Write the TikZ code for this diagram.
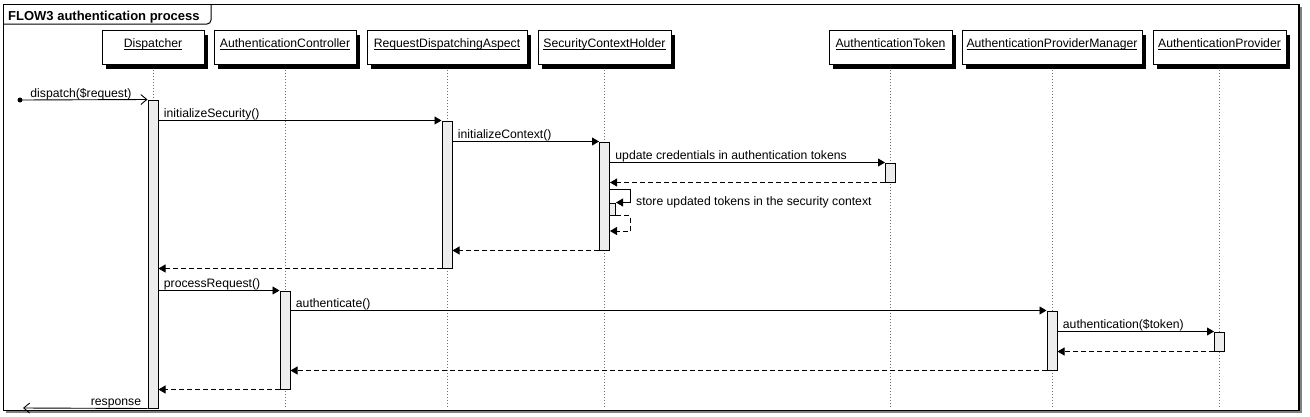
\documentclass[tikz,border=0pt]{standalone}
\usepackage{fontspec}
\setmainfont{Liberation Sans}
\usetikzlibrary{arrows.meta}
\newcommand\ulin[1]{\setbox0\hbox{#1}\rlap{\vrule width\wd0 height -1.5pt depth 2.5pt}\box0}
\begin{document}
\begin{tikzpicture}[x=1pt,y=-1pt,
  every node/.style={font=\fontsize{12.2}{14}\selectfont},
  part/.style={draw, fill=white, line width=1pt, inner sep=0pt, text height=16.5pt, text depth=17.5pt},
  act/.style={draw, fill=black!7, line width=1pt, minimum width=10pt, inner sep=0pt},
  life/.style={draw=black!55, line width=0.8pt, dash pattern=on 1.5pt off 1.5pt},
  call/.style={line width=0.9pt, -{Triangle[length=7pt,width=8pt]}},
  ret/.style={call, dash pattern=on 5pt off 3pt},
  open/.style={line width=0.9pt, -{Straight Barb[length=6pt,width=10pt]}},
  msg/.style={pos=0, anchor=base west, inner sep=0pt, xshift=5pt, yshift=3pt}
]
\useasboundingbox (0,0) rectangle (1310,416);
% frame
\fill[black!50] (5.5,6.5) rectangle (1301.5,413);
\draw[line width=1.6pt, fill=white] (3.5,4.5) rectangle (1299,410.5);
\draw[line width=1pt, rounded corners=4pt] (3.5,24) -- (211,24) -- (211,4.5);
\node[anchor=base west, inner sep=0pt, font=\bfseries\fontsize{13}{15}\selectfont] (title) at (8,20.5) {FLOW3 authentication process};

% participant shadows
\foreach \cx/\w in {153/102,285/142,447/160,604.5/133,890.5/123,1052/180,1219.5/133}
  \fill (\cx-\w/2+4, 34.5) rectangle (\cx+\w/2+4, 68.5);

% participants
\node[part, minimum width=102pt] (pD)   at (153,47.5)   {\ulin{Dispatcher}};
\node[part, minimum width=142pt] (pAC)  at (285,47.5)   {\ulin{AuthenticationController}};
\node[part, minimum width=160pt] (pRDA) at (447,47.5)   {\ulin{RequestDispatchingAspect}};
\node[part, minimum width=133pt] (pSCH) at (604.5,47.5) {\ulin{SecurityContextHolder}};
\node[part, minimum width=123pt] (pAT)  at (890.5,47.5) {\ulin{AuthenticationToken}};
\node[part, minimum width=180pt] (pAPM) at (1052,47.5)  {\ulin{AuthenticationProviderManager}};
\node[part, minimum width=133pt] (pAP)  at (1219.5,47.5){\ulin{AuthenticationProvider}};

% lifelines
\coordinate (bot) at (0,408);
\foreach \p in {pD,pAC,pRDA,pSCH,pAT,pAPM,pAP}
  \draw[life] ([yshift=-4.5pt]\p.south) -- (\p.south |- bot);

% activations
\node[act, minimum height=308pt] (aD)   at (153,254) {};
\node[act, minimum height=147pt] (aRDA) at (447,194.5) {};
\node[act, minimum height=108pt] (aSCH) at (604.5,196) {};
\node[act, minimum height=19pt]  (aAT)  at (890.5,172.5) {};
\node[act, minimum width=6pt, minimum height=12pt] (aS2) at (612.5,209) {};
\node[act, minimum height=98pt]  (aAC)  at (285,340) {};
\node[act, minimum height=59pt]  (aAPM) at (1052,340.5) {};
\node[act, minimum height=19pt]  (aAP)  at (1219.5,341.5) {};

% messages
\node[circle, fill=black, inner sep=0pt, minimum size=5pt] (start) at (20,100) {};
\draw[open] (start.center) -- node[msg, xshift=5pt] {dispatch(\$request)} (aD.north west);
\draw[call] (aD.east |- aRDA.north) -- node[msg] {initializeSecurity()} (aRDA.north west);
\draw[call] (aRDA.east |- aSCH.north) -- node[msg] {initializeContext()} (aSCH.north west);
\draw[call] (aSCH.east |- aAT.north) -- node[msg] {update credentials in authentication tokens} (aAT.north west);
\draw[ret] (aAT.south west) -- (aSCH.east |- aAT.south);

\coordinate (selfA) at (630,189);
\coordinate (selfB) at (630,231);
\draw[call] (aSCH.east |- selfA) -- (selfA) |- (aS2.north east);
\node[anchor=base west, inner sep=0pt] (lstore) at (636,205) {store updated tokens in the security context};
\draw[ret] (aS2.south east) -| (selfB) -- (aSCH.east |- selfB);

\draw[ret] (aSCH.south west) -- (aRDA.east |- aSCH.south);
\draw[ret] (aRDA.south west) -- (aD.east |- aRDA.south);
\draw[call] (aD.east |- aAC.north) -- node[msg] {processRequest()} (aAC.north west);
\draw[call] (aAC.east |- aAPM.north) -- node[msg] {authenticate()} (aAPM.north west);
\draw[call] (aAPM.east |- aAP.north) -- node[msg] {authentication(\$token)} (aAP.north west);
\draw[ret] (aAP.south west) -- (aAPM.east |- aAP.south);
\draw[ret] (aAPM.south west) -- (aAC.east |- aAPM.south);
\draw[ret] (aAC.south west) -- (aD.east |- aAC.south);
\coordinate (respEnd) at (23,408);
\draw[open] (aD.south west) -- node[pos=0, anchor=base east, inner sep=0pt, xshift=-6pt, yshift=3pt] {response} (respEnd);
\end{tikzpicture}
\end{document}
